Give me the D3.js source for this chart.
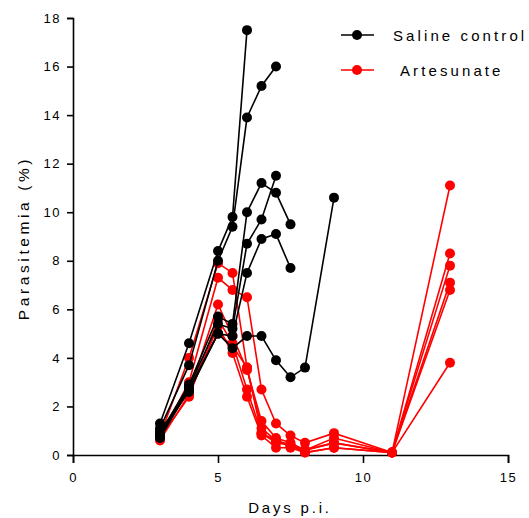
<!DOCTYPE html>
<html>
<head>
<meta charset="utf-8">
<script src="https://cdn.jsdelivr.net/npm/d3@7"></script>
<style>
  body { margin: 0; background: #fff; }
  svg { font-family: "Liberation Sans", Arial, sans-serif; }
</style>
</head>
<body>
<svg width="529" height="518"></svg>
<script>
// days post infection sampled per mouse
const salineDays = [
  [3, 4, 5, 5.5, 6],
  [3, 4, 5, 5.5, 6, 6.5, 7],
  [3, 4, 5, 5.5, 6, 6.5, 7, 7.5],
  [3, 4, 5, 5.5, 6, 6.5, 7],
  [3, 4, 5, 5.5, 6, 6.5, 7, 7.5],
  [3, 4, 5, 5.5, 6, 6.5, 7, 7.5, 8, 9]
];
const salineValues = [
  [1.3, 4.6, 8.4, 9.8, 17.5],
  [1.1, 3.7, 8.0, 9.4, 13.9, 15.2, 16.0],
  [0.9, 2.9, 5.7, 5.4, 10.0, 11.2, 10.8, 9.5],
  [0.8, 2.8, 5.4, 5.2, 8.7, 9.7, 11.5],
  [0.7, 2.7, 5.0, 4.9, 7.5, 8.9, 9.1, 7.7],
  [1.0, 2.6, 5.0, 4.4, 4.9, 4.9, 3.9, 3.2, 3.6, 10.6]
];
const artesunateDays = [3, 4, 5, 5.5, 6, 6.5, 7, 7.5, 8, 9, 11, 13];
const artesunateValues = [
  [0.8, 4.0, 7.9, 7.5, 3.6, 1.1, 0.6, 0.4, 0.2, 0.5, 0.1, 11.1],
  [0.7, 3.0, 7.3, 6.8, 6.5, 2.7, 1.3, 0.8, 0.5, 0.9, 0.1, 8.3],
  [0.9, 2.6, 6.2, 4.9, 3.5, 1.4, 0.7, 0.5, 0.2, 0.7, 0.1, 7.8],
  [0.7, 2.4, 5.6, 4.6, 2.7, 0.9, 0.5, 0.4, 0.1, 0.3, 0.1, 7.1],
  [0.6, 2.5, 5.3, 4.2, 2.4, 0.8, 0.3, 0.3, 0.1, 0.3, 0.1, 6.8],
  [0.8, 2.8, 5.0, 4.5, 3.6, 0.9, 0.6, 0.4, 0.2, 0.5, 0.1, 3.8]
];
const xTicks = [0, 5, 10, 15];
const yTicks = [0, 2, 4, 6, 8, 10, 12, 14, 16, 18];
const legendLabels = ['Saline control', 'Artesunate'];

const svg = d3.select('svg');

const x = d3.scaleLinear().domain([0, 15]).range([73, 508]);
const y = d3.scaleLinear().domain([0, 18]).range([455, 18]);

// axes
const xAxis = svg.append('g')
  .attr('transform', 'translate(0,455)')
  .call(d3.axisBottom(x).tickValues(xTicks).tickSize(8).tickPadding(10));
const yAxis = svg.append('g')
  .attr('transform', 'translate(73,0)')
  .call(d3.axisLeft(y).tickValues(yTicks).tickSize(6).tickPadding(6));

[xAxis, yAxis].forEach(g => {
  g.select('.domain').attr('stroke', '#000').attr('stroke-width', 1.6);
  g.selectAll('.tick line').attr('stroke', '#000').attr('stroke-width', 1.6);
  g.selectAll('.tick text')
    .attr('fill', '#000')
    .style('font-size', '13px')
    .style('letter-spacing', '1.5px')
    .style('font-family', '"Liberation Sans", Arial, sans-serif');
});

svg.append('text')
  .attr('x', 290).attr('y', 513)
  .attr('text-anchor', 'middle')
  .style('font-size', '15px')
  .style('letter-spacing', '2.8px')
  .text('Days p.i.');

svg.append('text')
  .attr('transform', 'translate(29,238) rotate(-90)')
  .attr('text-anchor', 'middle')
  .style('font-size', '15.5px')
  .style('letter-spacing', '3.6px')
  .text('Parasitemia (%)');

const line = d3.line().x(d => x(d[0])).y(d => y(d[1]));

function drawGroup(days, values, color) {
  const g = svg.append('g');
  values.forEach((vals, i) => {
    const ds = Array.isArray(days[0]) ? days[i] : days;
    const pts = vals.map((v, j) => [ds[j], v]);
    g.append('path')
      .datum(pts)
      .attr('d', line)
      .attr('fill', 'none')
      .attr('stroke', color)
      .attr('stroke-width', 1.6);
    g.selectAll(null)
      .data(pts)
      .join('circle')
      .attr('cx', d => x(d[0]))
      .attr('cy', d => y(d[1]))
      .attr('r', 5)
      .attr('fill', color);
  });
}

// red first so the control group sits on top, as in the original
drawGroup(artesunateDays, artesunateValues, '#ff0000');
drawGroup(salineDays, salineValues, '#000');

// legend
const legend = svg.append('g');
const legendColors = ['#000', '#ff0000'];
legendLabels.forEach((lab, i) => {
  const ly = 35 + i * 35;
  legend.append('line')
    .attr('x1', 341).attr('x2', 374).attr('y1', ly).attr('y2', ly)
    .attr('stroke', legendColors[i]).attr('stroke-width', 1.6);
  legend.append('circle')
    .attr('cx', 357).attr('cy', ly).attr('r', 5)
    .attr('fill', legendColors[i]);
  legend.append('text')
    .attr('x', i === 0 ? 393 : 400).attr('y', ly + 6)
    .style('font-size', '15px')
    .style('letter-spacing', '3.1px')
    .text(lab);
});
</script>
</body>
</html>
